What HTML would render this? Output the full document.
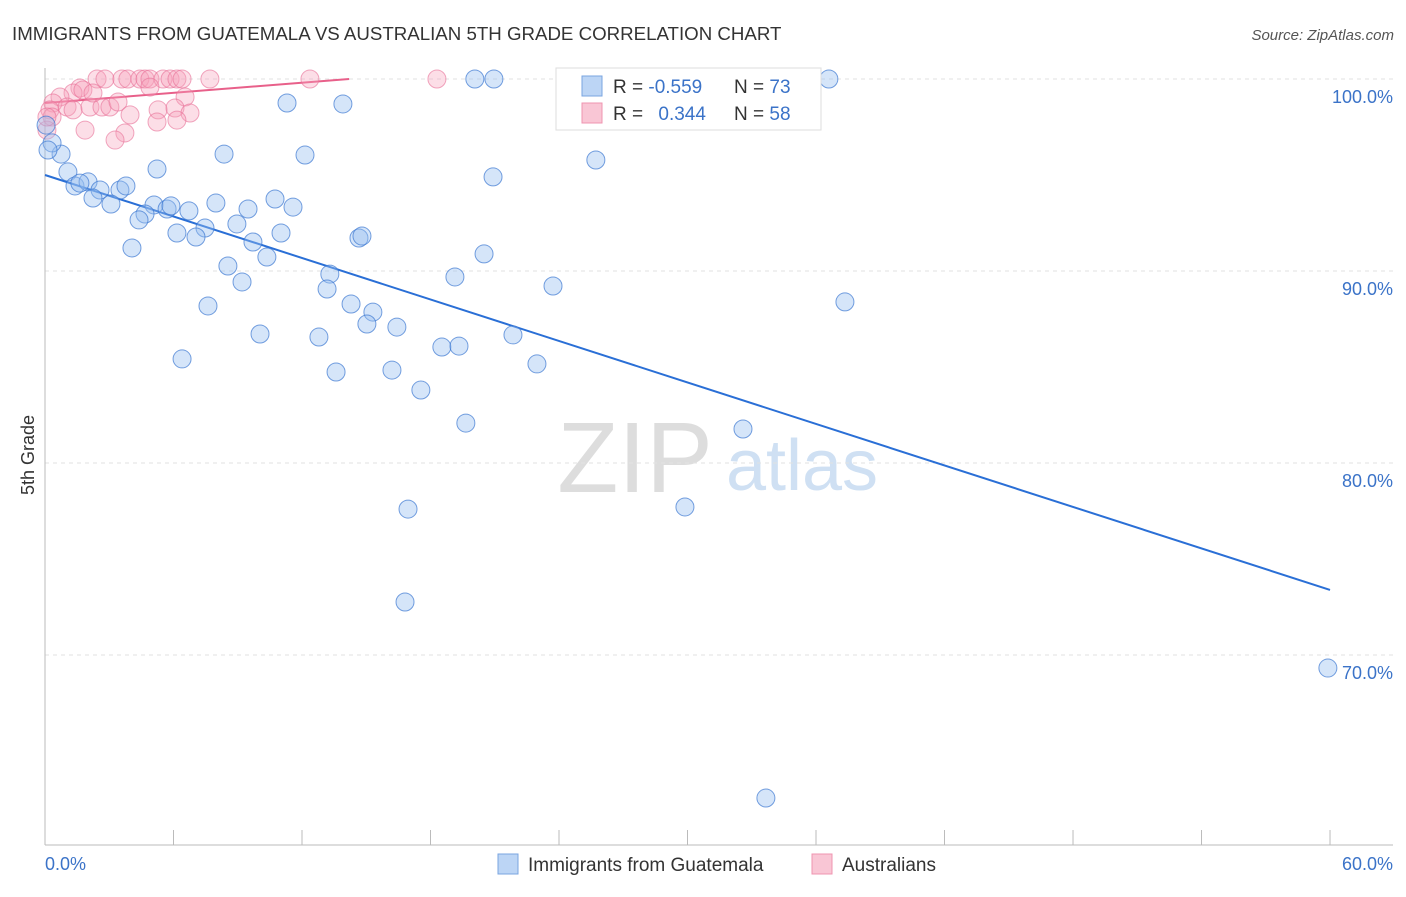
<!DOCTYPE html>
<html><head><meta charset="utf-8"><style>
body{margin:0;background:#fff;font-family:"Liberation Sans",sans-serif}
svg text{font-family:"Liberation Sans",sans-serif}
</style></head><body>
<svg width="1406" height="892">
<text x="12" y="40" font-size="18.7" fill="#333">IMMIGRANTS FROM GUATEMALA VS AUSTRALIAN 5TH GRADE CORRELATION CHART</text>
<text x="1394" y="40" font-size="15" fill="#555" text-anchor="end" font-style="italic">Source: ZipAtlas.com</text>
<g><text x="635" y="492" font-size="100" fill="#ddd" font-family="Liberation Serif" text-anchor="middle">ZIP</text><text x="802" y="490" font-size="72" fill="#cfe0f3" text-anchor="middle">atlas</text></g>
<g id="grid"></g><g id="axes"></g><g id="trend"></g><g id="pts"></g>
<text x="34" y="455" font-size="18" fill="#333" transform="rotate(-90 34 455)" text-anchor="middle">5th Grade</text>
<text x="45" y="870" font-size="18" fill="#3b73c8">0.0%</text>
<text x="1393" y="870" font-size="18" fill="#3b73c8" text-anchor="end">60.0%</text>
<g>
<rect x="556" y="68" width="265" height="62" fill="#fff" stroke="#ddd"/>
<rect x="582" y="76" width="20" height="20" fill="#bcd5f5" stroke="#7aa5e0"/>
<rect x="582" y="103" width="20" height="20" fill="#f9c6d5" stroke="#ef94b0"/>
<text x="613" y="93" font-size="19" fill="#333">R = <tspan fill="#3b73c8">-0.559</tspan></text>
<text x="734" y="93" font-size="19" fill="#333">N = <tspan fill="#3b73c8">73</tspan></text>
<text x="613" y="120" font-size="19" fill="#333">R = <tspan fill="#3b73c8" dx="10">0.344</tspan></text>
<text x="734" y="120" font-size="19" fill="#333">N = <tspan fill="#3b73c8">58</tspan></text>
</g>
<g>
<rect x="498" y="854" width="20" height="20" fill="#bcd5f5" stroke="#7aa5e0"/>
<text x="528" y="871" font-size="19" fill="#333">Immigrants from Guatemala</text>
<rect x="812" y="854" width="20" height="20" fill="#f9c6d5" stroke="#ef94b0"/>
<text x="842" y="871" font-size="19" fill="#333">Australians</text>
</g>
</svg>
<script>
const yTicks=[100,90,80,70];
const yTickLabels=["100.0%","90.0%","80.0%","70.0%"];
const xTicks=[0,6,12,18,24,30,36,42,48,54,60];
const blueX=[20.07,20.96,36.6,11.3,13.91,8.36,12.14,25.72,0.75,0.33,1.07,5.23,20.92,1.4,2.01,1.63,2.57,3.5,3.78,2.24,3.08,5.09,5.7,5.88,4.67,4.39,6.72,7.98,9.48,10.74,11.58,8.96,6.16,7.47,7.05,11.02,9.71,14.66,14.8,4.06,10.36,20.5,8.54,9.2,13.3,19.14,23.72,13.17,37.35,7.61,14.29,15.31,15.03,16.43,10.04,12.79,21.85,18.53,19.33,6.4,13.59,16.2,22.97,17.55,19.65,32.59,16.95,29.88,16.81,59.9,33.66,0.05,0.14];
const blueY=[100,100,100,98.75,98.7,96.09,96.04,95.78,96.09,96.67,95.16,95.31,94.9,94.43,94.64,94.58,94.22,94.22,94.43,93.8,93.49,93.44,93.23,93.39,92.97,92.66,93.13,93.54,93.23,93.75,93.33,92.45,91.98,92.24,91.77,91.98,91.51,91.72,91.82,91.2,90.73,90.89,90.26,89.43,89.84,89.69,89.22,89.06,88.39,88.18,88.28,87.86,87.24,87.08,86.72,86.56,86.67,86.04,86.09,85.42,84.74,84.84,85.16,83.8,82.08,81.77,77.6,77.71,72.76,69.32,62.55,97.6,96.3];
const pinkX=[2.43,2.8,3.59,3.87,4.43,4.67,4.9,5.51,5.84,6.16,6.4,7.7,12.37,18.3,1.63,1.31,0.7,0.37,0.23,0.33,1.03,1.31,2.1,2.66,3.03,3.41,4.9,6.54,3.97,5.28,6.07,6.77,5.23,6.16,1.87,3.73,3.27,0.09,0.09,1.77,2.24];
const pinkY=[100,100,100,100,100,100,100,100,100,100,100,100,100,100,99.53,99.27,99.06,98.75,98.39,98.02,98.54,98.39,98.54,98.54,98.54,98.8,99.58,99.06,98.13,98.39,98.49,98.23,97.76,97.86,97.34,97.19,96.82,97.34,98.02,99.43,99.27];
const blueTrend=[[0,95.0],[60,73.39]];
const pinkTrend=[[0,98.75],[14.2,100]];
const X=v=>45+v*21.417, Y=v=>79+(100-v)*19.2;
const NS="http://www.w3.org/2000/svg";
function mk(t,a,p){const e=document.createElementNS(NS,t);for(const k in a)e.setAttribute(k,a[k]);p.appendChild(e);return e;}
const g=document.getElementById('grid');
yTicks.forEach((t,i)=>{const l=mk('line',{x1:45,x2:1393,y1:Y(t),y2:Y(t),stroke:'#e2e2e2','stroke-dasharray':'4 4'},g);


const tx=mk('text',{x:1393,y:Y(t)+24,'font-size':18,fill:'#3b73c8','text-anchor':'end'},g);tx.textContent=yTickLabels[i];

});
const ax=document.getElementById('axes');
const yl=mk('line',{x1:45,x2:45,y1:68,y2:845,stroke:'#bbb'},ax);


const xl=mk('line',{x1:45,x2:1393,y1:845,y2:845,stroke:'#bbb'},ax);


xTicks.forEach(t=>{const l=mk('line',{x1:X(t),x2:X(t),y1:830,y2:845,stroke:'#bbb'},ax);

});
const tr=document.getElementById('trend');
const bt=mk('line',{x1:X(blueTrend[0][0]),y1:Y(blueTrend[0][1]),x2:X(blueTrend[1][0]),y2:Y(blueTrend[1][1]),stroke:'#2a6fd6','stroke-width':2},tr);


const pt=mk('line',{x1:X(pinkTrend[0][0]),y1:Y(pinkTrend[0][1]),x2:X(pinkTrend[1][0]),y2:Y(pinkTrend[1][1]),stroke:'#e8608a','stroke-width':2},tr);


const P=document.getElementById('pts');
pinkX.forEach((x,i)=>{const c=mk('circle',{cx:X(x),cy:Y(pinkY[i]),r:9,fill:'rgba(245,160,185,0.35)',stroke:'rgba(232,110,150,0.6)'},P);

});
blueX.forEach((x,i)=>{const c=mk('circle',{cx:X(x),cy:Y(blueY[i]),r:9,fill:'rgba(150,190,240,0.4)',stroke:'rgba(60,120,210,0.7)'},P);

});
</script>
</body></html>
